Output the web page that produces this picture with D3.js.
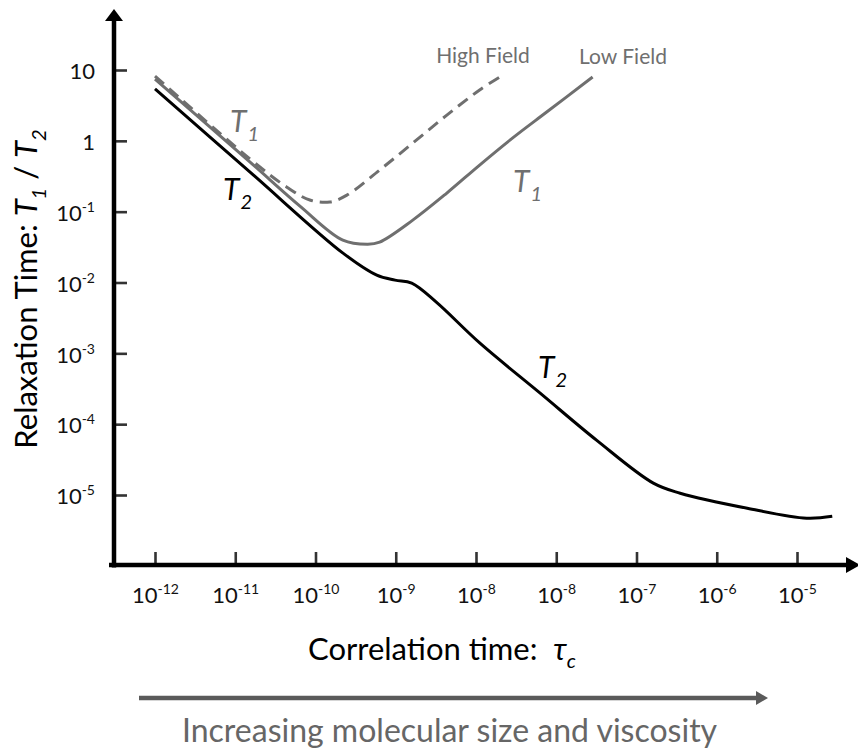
<!DOCTYPE html>
<html>
<head>
<meta charset="utf-8">
<script src="https://cdn.jsdelivr.net/npm/d3@7/dist/d3.min.js"></script>
<style>
  html, body { margin: 0; padding: 0; background: #fff; }
  svg { display: block; font-family: Lato, "Open Sans", sans-serif; }
  .pre { white-space: pre; }
</style>
</head>
<body>
<svg id="chart" width="858" height="750"></svg>
<script>
// ---------- DATA ----------
// x tick positions (correlation time, s) and their labels as printed in the original
const xTickVals = [1e-12, 1e-11, 1e-10, 1e-9, 1e-8, 1e-7, 1e-6, 1e-5, 1e-4];
const xTickBase = ["10", "10", "10", "10", "10", "10", "10", "10", "10"];
const xTickSup  = ["-12", "-11", "-10", "-9", "-8", "-8", "-7", "-6", "-5"];

// y ticks (relaxation time, s)
const yTickVals = [10, 1, 1e-1, 1e-2, 1e-3, 1e-4, 1e-5];
const yTickBase = ["10", "1", "10", "10", "10", "10", "10"];
const yTickSup  = ["", "", "-1", "-2", "-3", "-4", "-5"];

// curves: [tau, relaxation time]
const t2Curve = [
  [1e-12, 5.4], [1.53e-11, 0.362], [2.2e-10, 0.026], [5.8e-10, 0.0127],
  [9.8e-10, 0.0108], [1.58e-9, 0.0098], [3.2e-9, 0.00528], [1.12e-8, 0.00139],
  [6.3e-8, 0.000274], [3.2e-7, 5.9e-5], [1.62e-6, 1.47e-5], [3.5e-6, 1.06e-5],
  [2.4e-5, 6.5e-6], [1.32e-4, 4.7e-6], [2.75e-4, 5.0e-6]
];
const t1LowField = [
  [1e-12, 7.46], [1.53e-11, 0.502], [6.4e-11, 0.12], [2.19e-10, 0.0397],
  [4.49e-10, 0.0348], [6.3e-10, 0.0372], [1.63e-9, 0.076], [4.33e-9, 0.183],
  [1.11e-8, 0.455], [2.87e-8, 1.10], [7.6e-8, 2.55], [2.84e-7, 7.96]
];
const t1HighField = [
  [1e-12, 8.2], [1.53e-11, 0.553], [4.4e-11, 0.222], [8.5e-11, 0.146],
  [1.51e-10, 0.137], [2.46e-10, 0.171], [6.3e-10, 0.387], [1.63e-9, 0.93],
  [4.33e-9, 2.31], [1.11e-8, 5.22], [1.98e-8, 7.96]
];

// ---------- LAYOUT ----------
const W = 858, H = 750;
const axisX = 114, axisY = 565;
const svg = d3.select("#chart");

const x = d3.scaleLog().domain([1e-12, 1e-4]).range([155, 797]);
const y = d3.scaleLog().domain([1e-5, 10]).range([495, 70]);

const grey = "#6f6f6f";

// ---------- AXES ----------
const yAxis = d3.axisLeft(y).tickValues(yTickVals).tickSize(-13).tickPadding(19).tickFormat("");
const gy = svg.append("g").attr("transform", `translate(${axisX},0)`).call(yAxis);
gy.select(".domain").remove();
gy.selectAll(".tick line").attr("stroke", "#333").attr("stroke-width", 2.6);
gy.selectAll(".tick text").each(function(d, i) {
  const t = d3.select(this).attr("font-size", 22).attr("fill", "#111").attr("dy", "0.4em")
    .attr("font-family", "Lato, sans-serif");
  t.append("tspan").text(yTickBase[i]);
  if (yTickSup[i]) t.append("tspan").attr("font-size", 14).attr("dy", -9).text(yTickSup[i]);
});

const xAxis = d3.axisBottom(x).tickValues(xTickVals).tickSize(-13).tickPadding(22).tickFormat("");
const gx = svg.append("g").attr("transform", `translate(0,${axisY})`).call(xAxis);
gx.select(".domain").remove();
gx.selectAll(".tick line").attr("stroke", "#333").attr("stroke-width", 2.6);
gx.selectAll(".tick text").each(function(d, i) {
  const t = d3.select(this).attr("font-size", 22).attr("fill", "#111")
    .attr("font-family", "Lato, sans-serif");
  t.append("tspan").text(xTickBase[i]);
  t.append("tspan").attr("font-size", 14).attr("dy", -9).text(xTickSup[i]);
});

// main axis lines with arrow heads
svg.append("line").attr("x1", axisX).attr("x2", axisX).attr("y1", axisY + 2.5).attr("y2", 18)
  .attr("stroke", "#000").attr("stroke-width", 4.5);
svg.append("path").attr("d", `M${axisX},9 L${axisX - 9},21 L${axisX + 9},21 Z`).attr("fill", "#000");
svg.append("line").attr("x1", axisX - 5).attr("x2", 848).attr("y1", axisY).attr("y2", axisY)
  .attr("stroke", "#000").attr("stroke-width", 4.5);
svg.append("path").attr("d", `M${W + 2},${axisY} L${W - 12},${axisY - 8} L${W - 12},${axisY + 8} Z`).attr("fill", "#000");

// ---------- CURVES ----------
const line = d3.line().x(d => x(d[0])).y(d => y(d[1])).curve(d3.curveCatmullRom.alpha(0.5));

svg.append("path").datum(t1LowField).attr("d", line)
  .attr("fill", "none").attr("stroke", grey).attr("stroke-width", 3);
svg.append("path").datum(t1HighField).attr("d", line)
  .attr("fill", "none").attr("stroke", grey).attr("stroke-width", 3).attr("stroke-dasharray", "12,7");
svg.append("path").datum(t2Curve).attr("d", line)
  .attr("fill", "none").attr("stroke", "#000").attr("stroke-width", 3);

// ---------- CURVE LABELS ----------
function tLabel(px, py, sub, color) {
  const t = svg.append("text").attr("x", px).attr("y", py).attr("fill", color)
    .attr("font-style", "italic").attr("font-size", 30);
  t.append("tspan").text("T");
  t.append("tspan").attr("font-size", 20).attr("dy", 9).attr("dx", 1).text(sub);
}
tLabel(230, 132, "1", grey);
tLabel(223, 200, "2", "#000");
tLabel(513, 192, "1", grey);
tLabel(538, 378, "2", "#000");

svg.append("text").attr("x", 483).attr("y", 63).attr("text-anchor", "middle")
  .attr("font-size", 21).attr("fill", grey).text("High Field");
svg.append("text").attr("x", 623).attr("y", 64).attr("text-anchor", "middle")
  .attr("font-size", 21).attr("fill", grey).text("Low Field");

// ---------- AXIS TITLES ----------
const yt = svg.append("text").attr("class", "pre")
  .attr("transform", "translate(37,289) rotate(-90)")
  .attr("text-anchor", "middle").attr("font-size", 31).attr("fill", "#000");
yt.append("tspan").text("Relaxation Time: ");
yt.append("tspan").attr("font-style", "italic").text("T");
yt.append("tspan").attr("font-style", "italic").attr("font-size", 20).attr("dy", 9).text("1");
yt.append("tspan").attr("dy", -9).text(" / ");
yt.append("tspan").attr("font-style", "italic").text("T");
yt.append("tspan").attr("font-style", "italic").attr("font-size", 20).attr("dy", 9).text("2");

const xt = svg.append("text").attr("class", "pre").attr("x", 308).attr("y", 660)
  .attr("font-size", 31).attr("fill", "#000");
xt.append("tspan").text("Correlation time:  ");
xt.append("tspan").attr("font-style", "italic").text("τ");
xt.append("tspan").attr("font-style", "italic").attr("font-size", 20).attr("dy", 8).text("c");

// bottom arrow
svg.append("line").attr("x1", 139).attr("x2", 758).attr("y1", 698).attr("y2", 698)
  .attr("stroke", "#5a5a5a").attr("stroke-width", 4.5);
svg.append("path").attr("d", "M768,698 L756,691 L756,705 Z").attr("fill", "#5a5a5a");

svg.append("text").attr("x", 182).attr("y", 742).attr("font-size", 32).attr("fill", "#666")
  .text("Increasing molecular size and viscosity");
</script>
</body>
</html>
